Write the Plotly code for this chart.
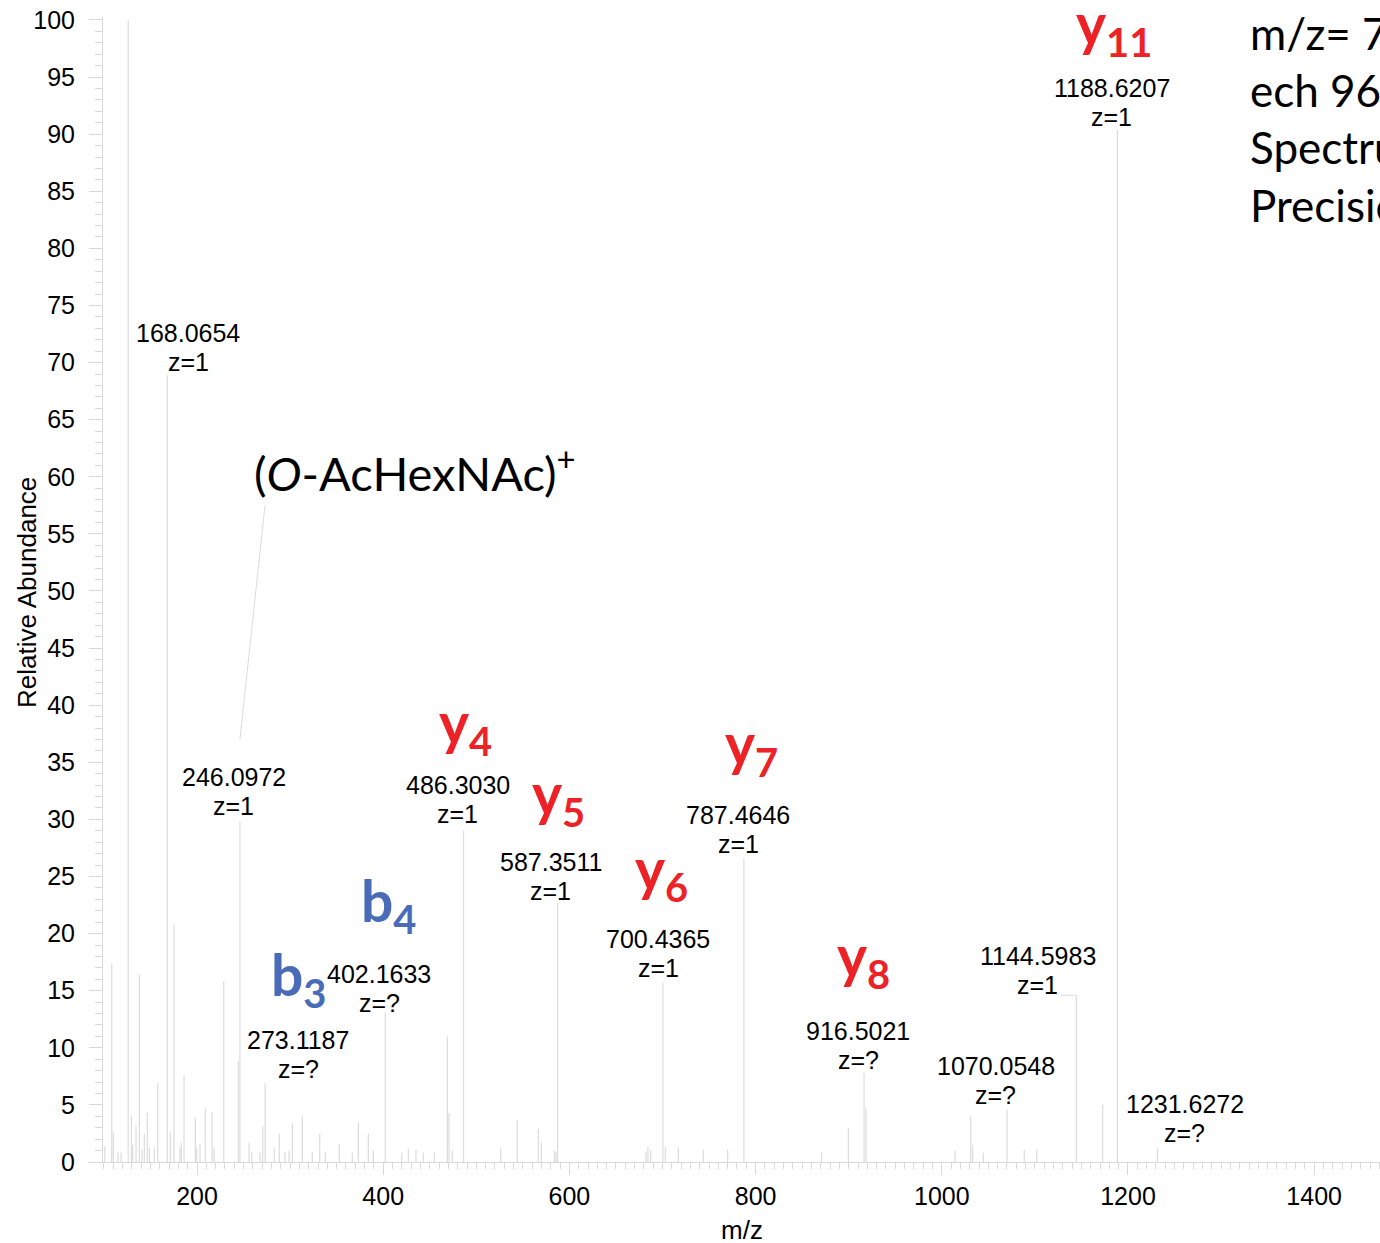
import plotly.graph_objects as go

# ---- spectrum peaks (m/z, relative abundance) ----
peak_mz = [
    100.9, 108.4, 110.1, 115.1, 118.4, 126.055, 129.5, 131.0, 134.5, 138.055,
    140.9, 143.4, 146.6, 148.8, 154.1, 157.8, 168.0654, 171.3, 175.3, 181.7,
    183.1, 186.076, 198.2, 199.7, 203.2, 208.9, 216.1, 218.3, 228.7, 244.4,
    246.0972, 255.9, 258.8, 267.7, 270.6, 273.1187, 283.0, 288.4, 294.5, 298.8,
    302.4, 313.1, 323.8, 331.8, 337.8, 352.8, 366.8, 373.3, 384.0, 389.4,
    402.1633, 419.9, 427.0, 435.2, 443.1, 454.9, 468.9, 470.7, 474.2, 486.3030,
    526.2, 544.0, 566.6, 569.8, 583.8, 585.6, 587.3511, 682.3, 684.4, 687.3,
    700.4365, 703.0, 717.0, 743.8, 770.0, 787.4646, 871.0, 899.6, 916.5021, 918.6,
    1014.2, 1031.0, 1033.2, 1044.6, 1070.0548, 1088.6, 1101.9, 1144.5983, 1172.8, 1188.6207,
    1231.6272,
]
peak_abundance = [
    1.4, 17.4, 2.6, 0.8, 0.8, 100.0, 4.1, 1.5, 3.1, 16.4,
    1.1, 2.5, 4.3, 1.3, 1.3, 6.9, 68.9, 2.6, 20.8, 1.3,
    1.7, 7.6, 3.9, 1.3, 1.6, 4.7, 4.4, 1.3, 15.8, 8.8,
    29.8, 1.7, 0.9, 0.8, 3.1, 6.9, 1.3, 2.5, 0.9, 1.0,
    3.4, 4.0, 0.9, 2.5, 0.9, 1.6, 0.8, 3.5, 2.5, 1.0,
    13.1, 0.8, 1.2, 1.1, 0.8, 0.8, 11.0, 4.3, 1.0, 29.0,
    1.2, 3.7, 2.9, 1.7, 1.0, 0.9, 22.7, 0.9, 1.3, 1.0,
    15.7, 1.3, 1.3, 1.1, 1.1, 26.6, 0.8, 3.0, 7.8, 4.7,
    1.0, 4.0, 1.5, 0.8, 4.6, 1.1, 1.1, 14.6, 5.0, 90.4,
    1.2,
]

# ---- annotated peaks ----
label_mz = [168.0654, 246.0972, 273.1187, 402.1633, 486.3030, 587.3511, 700.4365,
            787.4646, 916.5021, 1070.0548, 1144.5983, 1188.6207, 1231.6272]
label_charge = ["1", "1", "?", "?", "1", "1", "1", "1", "?", "?", "1", "1", "?"]
# label block centres (m/z, abundance units)
label_pos_x = [190.3, 239.7, 308.5, 395.5, 480.3, 580.2, 695.2, 781.1, 910.0, 1058.2, 1103.3, 1182.8, 1261.2]
label_pos_y = [71.3, 32.4, 9.4, 15.2, 31.7, 25.0, 18.3, 29.1, 10.2, 7.1, 16.8, 92.8, 3.8]
LINE_GAP = 1.27  # half the spacing between the two label lines, abundance units

# ---- fragment ion names ----
ion_letter = ["y", "y", "y", "y", "y", "y", "b", "b"]
ion_index = ["11", "4", "5", "6", "7", "8", "4", "3"]
ion_pos_x = [1185.0, 488.9, 587.8, 698.4, 795.1, 916.4, 406.2, 309.6]
ion_pos_y = [99.4, 38.2, 32.0, 25.4, 36.3, 17.8, 22.6, 16.1]

RED = "#EC2227"
BLUE = "#4A6CB8"
PEAK = "#dcdcdc"
AXIS = "#d9d9d9"
ARIAL = "Liberation Sans, Arial"

# stick spectrum
xs, ys = [], []
for m, a in zip(peak_mz, peak_abundance):
    xs += [m, m, None]
    ys += [0, a, None]

fig = go.Figure(go.Scatter(x=xs, y=ys, mode="lines",
                           line=dict(color=PEAK, width=1.2),
                           hoverinfo="skip", showlegend=False))

ann = []
for m, z, lx, ly in zip(label_mz, label_charge, label_pos_x, label_pos_y):
    for txt, yy in ((f"{m:.4f}", ly + LINE_GAP), (f"z={z}", ly - LINE_GAP)):
        ann.append(dict(x=lx, y=yy, xref="x", yref="y", showarrow=False,
                        text=txt, xanchor="center", yanchor="middle",
                        font=dict(family=ARIAL, size=25, color="black")))

for letter, idx, ix, iy in zip(ion_letter, ion_index, ion_pos_x, ion_pos_y):
    color = RED if letter == "y" else BLUE
    ann.append(dict(x=ix, y=iy, xref="x", yref="y", showarrow=False,
                    text=f"<b>{letter}<sub>{idx}</sub></b>",
                    xanchor="center", yanchor="middle",
                    font=dict(family="Lato", size=57, color=color)))

ann.append(dict(x=434.2, y=60.6, xref="x", yref="y", showarrow=False,
                text="(<i>O</i>-AcHexNAc)<sup>+</sup>",
                xanchor="center", yanchor="middle",
                font=dict(family="Lato", size=47, color="black")))

ann.append(dict(x=1328.9, y=1.0105, xref="x", yref="paper", showarrow=False,
                text="m/z= 7<br>ech 96<br>Spectrum<br>Precision",
                align="left", xanchor="left", yanchor="top",
                font=dict(family="Lato", size=44, color="black")))

# axis titles
ann.append(dict(x=-0.0595, y=0.497, xref="paper", yref="paper", showarrow=False,
                text="Relative Abundance", textangle=-90,
                xanchor="center", yanchor="middle",
                font=dict(family=ARIAL, size=26, color="black")))
ann.append(dict(x=0.5, y=-0.0594, xref="paper", yref="paper", showarrow=False,
                text="m/z", xanchor="center", yanchor="middle",
                font=dict(family=ARIAL, size=26, color="black")))

shapes = [
    # leader from the oxonium-ion label down to its peak label
    dict(type="line", xref="x", yref="y", x0=273.0, y0=57.5, x1=label_mz[1], y1=37.0,
         line=dict(color=PEAK, width=1)),
    dict(type="line", xref="x", yref="y", x0=1128.0, y0=14.6, x1=label_mz[10], y1=14.6,
         line=dict(color=PEAK, width=1)),
]

fig.update_layout(
    width=1380, height=1243,
    margin=dict(l=103, r=0, t=17, b=81),
    paper_bgcolor="white", plot_bgcolor="white",
    annotations=ann, shapes=shapes,
    xaxis=dict(range=[99, 1470.7], tick0=0, dtick=200, ticks="outside", ticklen=12,
               tickcolor=AXIS, showline=True, linecolor=AXIS, showgrid=False, zeroline=False,
               minor=dict(dtick=10, ticklen=6, tickcolor=AXIS, ticks="outside", showgrid=False),
               tickfont=dict(family=ARIAL, size=25, color="black")),
    yaxis=dict(range=[0, 100.26], tick0=0, dtick=5, ticks="outside", ticklen=13,
               tickcolor=AXIS, showline=True, linecolor=AXIS, showgrid=False, zeroline=False,
               ticklabelstandoff=9,
               minor=dict(dtick=1, ticklen=7, tickcolor=AXIS, ticks="outside", showgrid=False),
               tickfont=dict(family=ARIAL, size=25, color="black")),
)

fig.write_html("out.html")
